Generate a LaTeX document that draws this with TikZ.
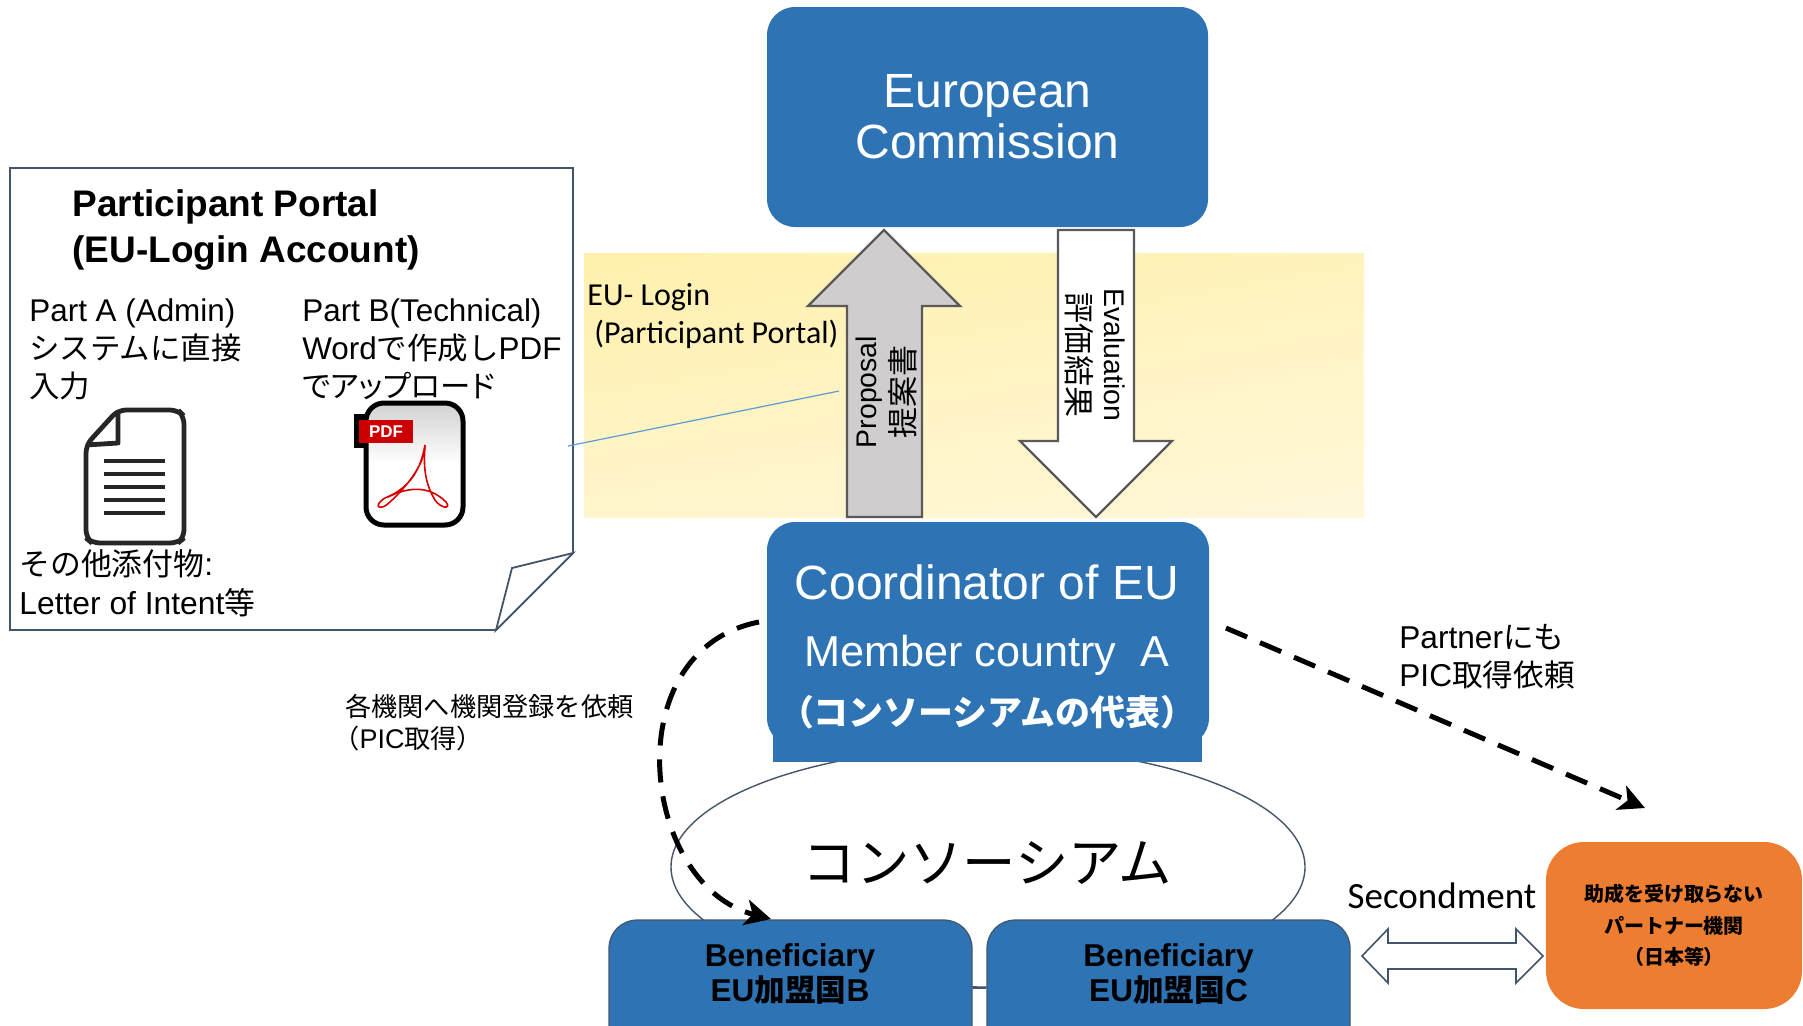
\documentclass[tikz,border=0pt]{standalone}
\usepackage{fontspec}
\setmainfont{Liberation Sans}
\newfontfamily\cjk[Scale=0.97]{Noto Sans CJK JP}
\newfontfamily\cjkp[Scale=0.97,RawFeature=+palt]{Noto Sans CJK JP}
\newfontfamily\calib{Carlito}
\usetikzlibrary{arrows.meta,shadings}
\definecolor{euBlue}{HTML}{2E74B5}
\definecolor{euOrange}{HTML}{ED7D31}
\definecolor{euLine}{HTML}{44546A}
\definecolor{arrGray}{HTML}{CFCDCE}
\definecolor{arrLine}{HTML}{595959}
\definecolor{linkBlue}{HTML}{5B9BD5}
\definecolor{bandA}{HTML}{FFF0AC}
\definecolor{bandB}{HTML}{FFF3BC}
\definecolor{bandC}{HTML}{FFF5CC}
\definecolor{bandD}{HTML}{FFF7DA}
\newcommand{\jp}[1]{{\cjk #1}}
\newcommand{\fsz}[2]{\fontsize{#1pt}{#2pt}\selectfont}
\tikzset{
  bluebox/.style={fill=euBlue, rounded corners=14pt, inner sep=0pt, text=white, align=center},
  benefbox/.style={bluebox, draw=euLine, line width=0.6pt, minimum width=181.5pt, minimum height=80pt},
  blocktext/.style={inner sep=0pt, align=center, text=black},
  txt/.style={inner sep=0pt, anchor=base west, align=left},
  blockarr/.style={draw=arrLine, line width=1.2pt, line join=miter},
  dashlink/.style={line width=2.5pt, dash pattern=on 11.5pt off 7pt, -{Stealth[length=13pt,width=13pt,inset=3.5pt]}}
}
\begin{document}
\begin{tikzpicture}[x=0.5pt,y=-0.5pt]
  \path[use as bounding box, clip] (0,0) rectangle (1803,1025);

  % band behind the two big arrows
  \shade[upper left=bandA, upper right=bandB, lower left=bandC, lower right=bandD] (584,253) rectangle (1364,517);

  \node[bluebox, minimum width=220.5pt, minimum height=110pt, font=\fsz{24}{25.5}] (commission) at (987.5,117)
    {European\\Commission};

  % proposal and evaluation
  \draw[blockarr, fill=arrGray] (847,517) -- (847,306) -- (808,306) -- (884,230) -- (960,306) -- (922,306) -- (922,517) -- cycle;
  \draw[blockarr, fill=white] (1058,230) -- (1058,441) -- (1020,441) -- (1096,517) -- (1172,441) -- (1134,441) -- (1134,230) -- cycle;
  \node[blocktext, rotate=90, font=\fsz{16}{19}] (proposal) at (886,392) {{\fsz{14.2}{19}Proposal}\\\jp{提案書}};
  \node[blocktext, rotate=-90, font=\fsz{16}{18.5}] (evaluation) at (1095,355) {{\fsz{14.2}{18.5}Evaluation}\\\jp{評価結果}};

  % consortium
  \draw[euLine, line width=0.7pt, fill=white] (988,867) ellipse (317 and 120);
  \node[inner sep=0pt] (consortium) at (987,863) {\fsz{27.5}{30}\jp{コンソーシアム}};
  \node[fill=euBlue, minimum width=214.5pt, minimum height=30pt, inner sep=0pt] (coordbase) at (987.5,732) {};
  \node[bluebox, minimum width=221pt, minimum height=112pt] (coordinator) at (988,634) {};
  \node[inner sep=0pt, text=white] (coordname) at (987,582) {\fsz{24}{26}Coordinator of EU};
  \node[inner sep=0pt, text=white] (coordmember) at (987,655) {\fsz{21.6}{26}Member country\ \ A};
  \node[inner sep=0pt, text=white] (coordrole) at (987,712) {\fsz{18}{26}\bfseries\jp{（コンソーシアムの代表）}};

  % beneficiaries
  \node[benefbox] (benefB) at (790.5,1000) {};
  \node[benefbox] (benefC) at (1168.5,1000) {};
  \draw[euLine, line width=0.8pt] (benefB.east |- 0,988) -- (benefC.west |- 0,988);
  \foreach \name/\x/\c in {B/790/B,C/1168.5/C} {
    \node[inner sep=0pt, align=center, font=\fsz{15.8}{15.2}\bfseries] (label\name) at (\x,974)
      {Beneficiary\\EU\jp{加盟国}\c};
  }

  \node[fill=euOrange, rounded corners=19pt, minimum width=128pt, minimum height=83.5pt, inner sep=0pt, align=center, font=\fsz{10.3}{15.7}\bfseries] (partner) at (1674,925.5)
    {\jp{助成を受け取らない}\\\jp{パートナー機関}\\\jp{（日本等）}};

  % secondment
  \draw[euLine, line width=0.8pt, fill=white] (1362,956) -- (1388,929) -- (1388,943) -- (1516,943) -- (1516,929) -- (1543,956)
    -- (1516,983) -- (1516,969) -- (1388,969) -- (1388,983) -- cycle;
  \node[inner sep=0pt] (secondment) at (1442,896) {\calib\fsz{18.5}{20}Secondment};

  % paper sheet
  \draw[euLine, line width=0.9pt, fill=white] (10,168) -- (573,168) -- (573,553) -- (496,630) -- (10,630) -- cycle;
  \draw[euLine, line width=0.9pt, fill=white] (573,553) -- (512,568) -- (496,630) -- cycle;
  \node[txt] (portal) at (72,216) {\fsz{18.5}{23}\bfseries Participant Portal};
  \node[txt] (account) at (72,262) {\fsz{18.5}{23}\bfseries (EU-Login Account)};
  \foreach \t [count=\i] in {Part A (Admin),\jp{システムに直接},\jp{入力}} {
    \node[txt] (partA\i) at (29,{321+38*(\i-1)}) {\fsz{15.7}{19}\t};
  }
  \foreach \t [count=\i] in {Part B(Technical),Word\jp{で作成し}PDF,{\cjkp でアップロード}} {
    \node[txt] (partB\i) at (302,{321+38*(\i-1)}) {\fsz{15.7}{19}\t};
  }
  \node[txt] (annex1) at (19,575) {\fsz{15.9}{19}\jp{その他添付物}:};
  \node[txt] (annex2) at (19,614) {\fsz{15.9}{19}Letter of Intent\jp{等}};

  % document icon
  \draw[black!85, line width=2.4pt, rounded corners=4pt, fill=white] (118,410) -- (178,410) -- (184,416) -- (184,538) -- (178,543) -- (92,543) -- (86,538) -- (86,445) -- cycle;
  \draw[black!85, line width=2.4pt, line join=round] (118,410) -- (118,443) -- (86,445);
  \foreach \y in {461,474,487,500,513} {
    \draw[black!85, line width=2.2pt] (104,\y) -- (165,\y);
  }

  % pdf icon
  \fill[black] (354,414) rectangle (372,448);
  \shade[top color=black!18, bottom color=white, middle color=white, draw=black, line width=2.5pt, rounded corners=9pt] (366,403) rectangle (463,525);
  \fill[red!80!black] (359,420) rectangle (413,443);
  \node[inner sep=0pt, text=white] (pdftag) at (386,432) {\fsz{8.5}{10}\bfseries PDF};
  \draw[red!85!black, line width=0.8pt] (425,445) .. controls (420,475) and (405,490) .. (385,498)
    .. controls (372,506) and (380,512) .. (390,502) .. controls (405,488) and (425,465) .. (425,445);
  \draw[red!85!black, line width=0.8pt] (388,497) .. controls (410,486) and (430,486) .. (446,502)
    .. controls (452,510) and (440,508) .. (435,500) .. controls (426,485) and (423,470) .. (425,445);

  % portal labels and leader
  \node[txt] (login1) at (587,305) {\calib\fsz{16}{18}EU- Login};
  \node[txt] (login2) at (594,343) {\calib\fsz{16}{18}(Participant Portal)};
  \coordinate (sheetend) at (568,446);
  \coordinate (loginend) at (839,391);
  \draw[linkBlue, line width=0.6pt] (sheetend) -- (loginend);

  % registration requests
  \node[txt] (request1) at (345,716) {\fsz{13.5}{16}\jp{各機関へ機関登録を依頼}};
  \node[txt] (request2) at (333,748) {\fsz{13.5}{16}\jp{（}PIC\jp{取得）}};
  \node[txt] (partnerpic1) at (1399,648) {\fsz{15.8}{19}Partner\jp{にも}};
  \node[txt] (partnerpic2) at (1399,686) {\fsz{15.8}{19}PIC\jp{取得依頼}};
  \coordinate (arcstart) at (759,622);
  \coordinate (arcend) at (771,919);
  \coordinate (dashstart) at (1226,628);
  \coordinate (dashend) at (1645,808);
  \draw[dashlink] (arcstart) .. controls (615,650) and (640,885) .. (arcend);
  \draw[dashlink] (dashstart) -- (dashend);
\end{tikzpicture}
\end{document}
